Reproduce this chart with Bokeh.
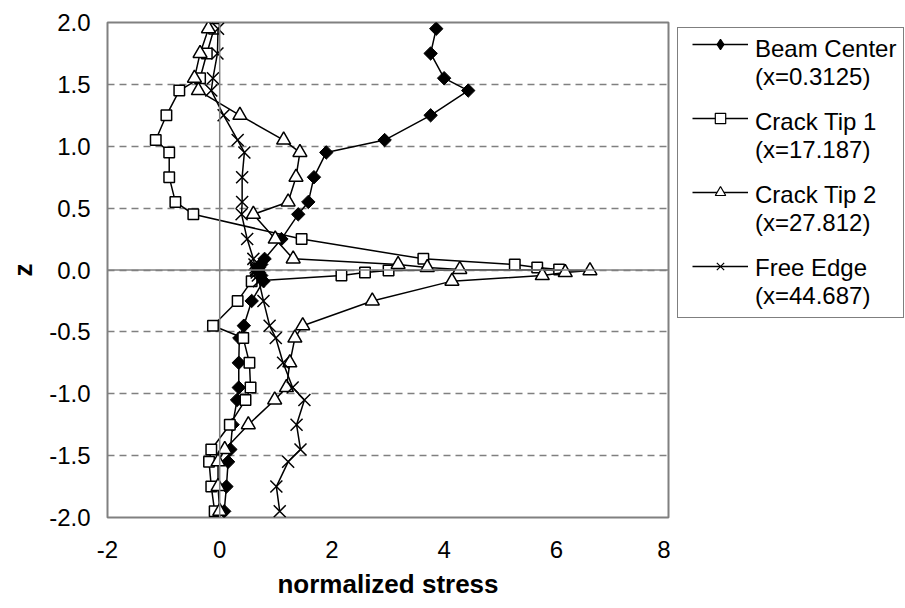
import numpy as np
from bokeh.plotting import figure
from bokeh.layouts import row
from bokeh.models import Span, Legend, LegendItem, FixedTicker, NumeralTickFormatter
from bokeh.embed import file_html
from bokeh.resources import INLINE

z = [1.95, 1.75, 1.55, 1.45, 1.25, 1.05, 0.95, 0.75, 0.55, 0.45, 0.25, 0.09, 0.045, 0.02, 0.005,
     -0.005, -0.02, -0.045, -0.09, -0.25, -0.45, -0.55, -0.75, -0.95, -1.05, -1.25, -1.45, -1.55, -1.75, -1.95]

beam_center = [3.86, 3.76, 4.00, 4.43, 3.76, 2.94, 1.90, 1.68, 1.58, 1.40, 1.10, 0.80, 0.74, 0.70, 0.68,
               0.68, 0.70, 0.74, 0.78, 0.57, 0.43, 0.35, 0.34, 0.34, 0.31, 0.23, 0.19, 0.15, 0.12, 0.08]
crack_tip_1 = [-0.10, -0.23, -0.35, -0.72, -0.95, -1.14, -0.90, -0.90, -0.79, -0.47, 1.46, 3.63, 5.26, 5.66, 6.05,
               3.01, 2.59, 2.17, 0.57, 0.32, -0.12, 0.42, 0.53, 0.55, 0.46, 0.18, -0.15, -0.19, -0.15, -0.09]
crack_tip_2 = [-0.20, -0.35, -0.45, -0.38, 0.36, 1.14, 1.43, 1.36, 1.22, 0.60, 0.99, 1.31, 3.18, 3.70, 4.28,
               6.60, 6.16, 5.75, 4.14, 2.72, 1.48, 1.34, 1.25, 1.19, 0.98, 0.51, 0.09, -0.03, -0.03, 0.00]
free_edge = [-0.03, -0.04, -0.12, -0.15, 0.07, 0.32, 0.44, 0.40, 0.40, 0.39, 0.49, 0.60, 0.62, 0.64, 0.65,
             0.65, 0.66, 0.68, 0.70, 0.78, 0.89, 1.00, 1.13, 1.30, 1.51, 1.37, 1.44, 1.22, 1.01, 1.07]

series_labels = ["Beam Center\n(x=0.3125)", "Crack Tip 1\n(x=17.187)",
                 "Crack Tip 2\n(x=27.812)", "Free Edge\n(x=44.687)"]
x_ticks = [-2, 0, 2, 4, 6, 8]
y_ticks = [-2.0, -1.5, -1.0, -0.5, 0.0, 0.5, 1.0, 1.5, 2.0]

FONT = "Liberation Sans"
GRAY = "#808080"
FS = "24px"
TITLE_FS = "26px"
H = 606
BOTTOM = 89

p = figure(width=670, height=H, x_range=(-2, 8), y_range=(-2, 2),
           output_backend="svg", toolbar_location=None,
           min_border_left=107, min_border_right=2, min_border_top=22, min_border_bottom=BOTTOM)
p.background_fill_color = "white"
p.border_fill_color = "white"
p.outline_line_color = GRAY
p.outline_line_width = 2

p.xgrid.visible = False
p.ygrid.ticker = FixedTicker(ticks=y_ticks)
p.ygrid.grid_line_color = GRAY
p.ygrid.grid_line_dash = "7 5"
p.ygrid.grid_line_width = 1.5

p.add_layout(Span(location=0, dimension="width", line_color=GRAY, line_width=1.5))
p.add_layout(Span(location=0, dimension="height", line_color=GRAY, line_width=1.5))

for ax in (p.xaxis[0], p.yaxis[0]):
    ax.axis_line_color = None
    ax.major_tick_line_color = None
    ax.minor_tick_line_color = None
    ax.major_tick_out = 0
    ax.major_tick_in = 0
    ax.minor_tick_out = 0
    ax.major_label_text_font = FONT
    ax.major_label_text_font_size = FS
    ax.major_label_text_color = "black"
    ax.axis_label_text_font = FONT
    ax.axis_label_text_font_style = "bold"
    ax.axis_label_text_font_size = TITLE_FS
    ax.axis_label_text_color = "black"

p.xaxis.ticker = FixedTicker(ticks=x_ticks)
p.yaxis.ticker = FixedTicker(ticks=y_ticks)
p.xaxis.formatter = NumeralTickFormatter(format="0")
p.yaxis.formatter = NumeralTickFormatter(format="0.0")
p.xaxis.axis_label = "normalized stress"
p.yaxis.axis_label = "z"
p.xaxis.major_label_standoff = 23
p.yaxis.major_label_standoff = 17
p.xaxis.axis_label_standoff = 8
p.yaxis.axis_label_standoff = 8

# Data series
p.line(beam_center, z, line_color="black", line_width=1.5)
p.scatter(beam_center, z, marker="square", angle=np.pi / 4, size=9.5,
          fill_color="black", line_color="black", line_width=1)
p.line(crack_tip_1, z, line_color="black", line_width=1.5)
p.scatter(crack_tip_1, z, marker="square", size=10.5,
          fill_color="white", line_color="black", line_width=1.5)
p.line(crack_tip_2, z, line_color="black", line_width=1.5)
p.scatter(crack_tip_2, z, marker="triangle", size=14,
          fill_color="white", line_color="black", line_width=1.5)
p.line(free_edge, z, line_color="black", line_width=1.5)
p.scatter(free_edge, z, marker="x", size=17,
          line_color="black", line_width=1.5)

# Legend panel (separate figure to the right of the plot; frame aligned with the plot's)
q = figure(width=234, height=H, x_range=(0, 1), y_range=(0, 1),
           x_axis_type=None, y_axis_type=None,
           output_backend="svg", toolbar_location=None,
           min_border_left=0, min_border_right=0, min_border_top=22, min_border_bottom=BOTTOM)
q.outline_line_color = None
q.background_fill_color = "white"
q.border_fill_color = "white"
q.xgrid.visible = False
q.ygrid.visible = False

sym_style = [dict(marker="diamond", fill_color="black", size=12),
             dict(marker="square", fill_color="white", size=10),
             dict(marker="triangle", fill_color="white", size=11),
             dict(marker="x", fill_color=None, size=12)]
sym_items = []
for st in sym_style:
    # legend-only symbols: a single point placed outside the visible range
    ln = q.line([-5], [-5], line_color="black", line_width=1.5)
    mk = q.scatter([-5], [-5], marker=st["marker"], fill_color=st["fill_color"], size=st["size"],
                   line_color="black", line_width=1.2)
    sym_items.append(LegendItem(label="\u00a0", renderers=[ln, mk]))

dummy = q.line([-5], [-5], line_alpha=0)
legend_text = Legend(items=[LegendItem(label=s, renderers=[dummy]) for s in series_labels],
                     location=(7, 199), margin=0,
                     label_text_font=FONT, label_text_font_size=FS,
                     label_text_color="black",
                     glyph_width=63, glyph_height=20, label_standoff=7,
                     padding=7, spacing=17,
                     border_line_color="black", border_line_width=1,
                     background_fill_alpha=0)
q.add_layout(legend_text, "center")

legend_sym = Legend(items=sym_items,
                    location=(22, 238), margin=0,
                    label_text_font_size="8px", label_height=8, label_standoff=0,
                    glyph_width=56, glyph_height=26, padding=0, spacing=48,
                    border_line_color=None, background_fill_alpha=0)
q.add_layout(legend_sym, "center")

layout = row(p, q, spacing=0)
open("out.html", "w").write(file_html(layout, INLINE))
